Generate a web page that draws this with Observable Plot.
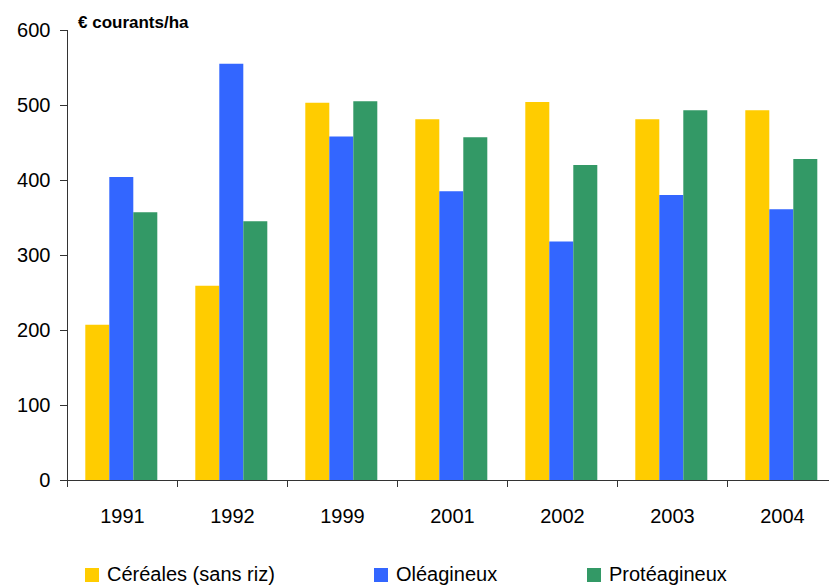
<!DOCTYPE html>
<html>
<head>
<meta charset="utf-8">
<script src="https://cdn.jsdelivr.net/npm/d3@7"></script>
<script src="https://cdn.jsdelivr.net/npm/@observablehq/plot@0.6"></script>
<style>
  html, body { margin: 0; padding: 0; background: #fff; overflow: hidden; }
  #wrap { position: relative; width: 829px; height: 585px; font-family: "Liberation Sans", Arial, sans-serif; }
  #title { position: absolute; left: 78px; top: 13px; font-size: 17px; font-weight: bold; color: #000; }
  .leg { position: absolute; top: 563px; font-size: 20px; color: #000; display: flex; align-items: center; white-space: nowrap; }
  .sw { width: 14px; height: 14px; margin-right: 8px; }
</style>
</head>
<body>
<div id="wrap">
  <div id="chart"></div>
  <div id="title">€ courants/ha</div>
  <div id="legend"></div>
</div>
<script>
const years = ["1991", "1992", "1999", "2001", "2002", "2003", "2004"];
const series = ["Céréales (sans riz)", "Oléagineux", "Protéagineux"];
const cereales = [207, 259, 503, 481, 504, 481, 493];
const oleagineux = [404, 555, 458, 385, 318, 380, 361];
const proteagineux = [357, 345, 505, 457, 420, 493, 428];
const colors = ["#FFCC00", "#3366FF", "#339966"];
const yTicks = [0, 100, 200, 300, 400, 500, 600];

const values = [cereales, oleagineux, proteagineux];
const data = [];
years.forEach((yr, i) => {
  series.forEach((s, j) => data.push({year: yr, series: s, value: values[j][i]}));
});

const W = 829, ML = 66.7, MR = -7.7;
const band = (W - ML - MR) / years.length;

const chart = Plot.plot({
  width: W,
  height: 545,
  marginLeft: ML,
  marginRight: MR,
  marginTop: 30,
  marginBottom: 65,
  style: {fontFamily: "'Liberation Sans', Arial, sans-serif", fontSize: "20px", color: "#000", background: "#fff", overflow: "hidden"},
  fx: {domain: years, paddingInner: 0, paddingOuter: 0, label: null, axis: null},
  x: {domain: series, paddingInner: 0, paddingOuter: 0.745, align: 0.47, axis: null},
  y: {domain: [0, 600], axis: null},
  color: {domain: series, range: colors},
  marks: [
    Plot.barY(data, {fx: "year", x: "series", y: "value", fill: "series"}),
    Plot.axisY({ticks: yTicks, tickSize: 7, tickPadding: 10, fontSize: 20, label: null, stroke: "#333"}),
    Plot.frame({anchor: "left", facetAnchor: "left", stroke: "#333"}),
    Plot.ruleY([0], {stroke: "#333"}),
    Plot.axisFx({anchor: "bottom", tickSize: 0, tickPadding: 28, fontSize: 20, label: null}),
    Plot.axisFx({anchor: "bottom", tickSize: 7, text: null, dx: -band / 2, label: null, stroke: "#333"})
  ]
});
document.getElementById("chart").appendChild(chart);

const legendPos = [85, 374, 587];
const legend = document.getElementById("legend");
series.forEach((s, i) => {
  const d = document.createElement("div");
  d.className = "leg";
  d.style.left = legendPos[i] + "px";
  d.innerHTML = `<span class="sw" style="background:${colors[i]}"></span><span>${s}</span>`;
  legend.appendChild(d);
});
</script>
</body>
</html>
